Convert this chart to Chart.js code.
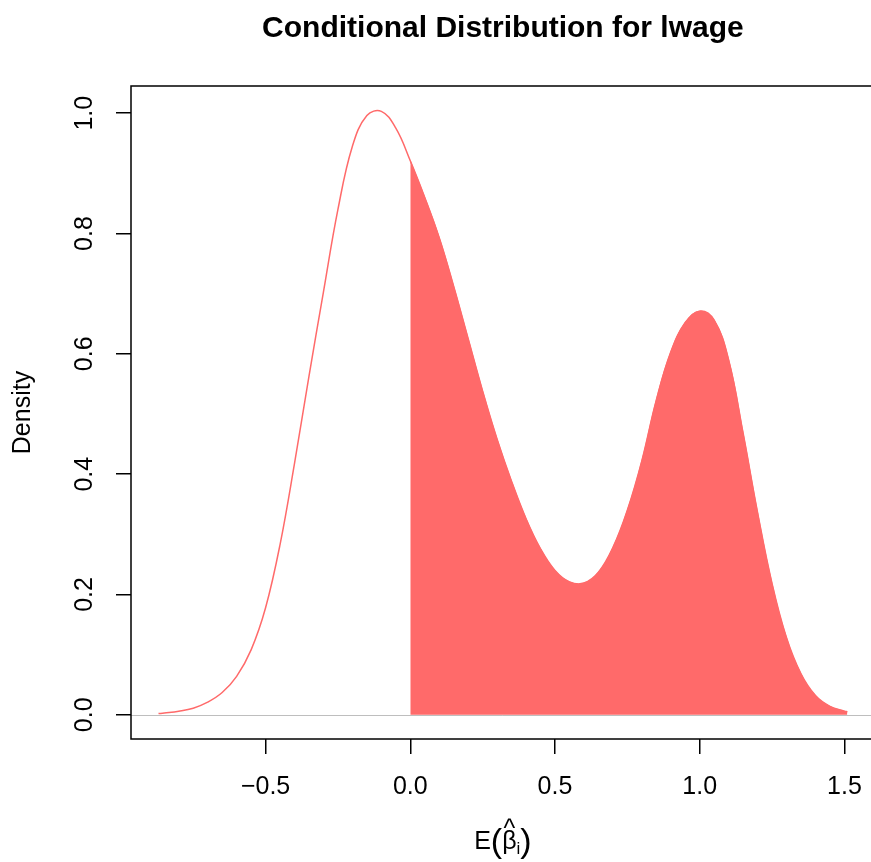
<!DOCTYPE html>
<html>
<head>
<meta charset="utf-8">
<script src="https://cdn.jsdelivr.net/npm/chart.js@4.4.1/dist/chart.umd.min.js"></script>
<style>
  html, body { margin: 0; padding: 0; background: #ffffff; overflow: hidden; width: 871px; height: 862px; }
  #wrap { position: absolute; left: 0; top: 0; width: 880px; height: 862px; }
</style>
</head>
<body>
<div id="wrap"><canvas id="c" width="880" height="862"></canvas></div>
<script>
// ---- data ----
const chartTitle = 'Conditional Distribution for lwage';
const yAxisTitle = 'Density';
const xTickValues = [-0.5, 0.0, 0.5, 1.0, 1.5];
const yTickValues = [0.0, 0.2, 0.4, 0.6, 0.8, 1.0];
const xRange = [-0.965, 1.605];
const yRange = [-0.0402, 1.0452];
const shadeFrom = 0.0;

const densityX = [-0.87, -0.85, -0.80, -0.75, -0.70, -0.65, -0.60, -0.55, -0.50, -0.45,
                  -0.40, -0.35, -0.30, -0.25, -0.20, -0.15, -0.10, -0.05, 0.00,
                   0.05, 0.10, 0.15, 0.20, 0.25, 0.30, 0.35, 0.40, 0.45, 0.50,
                   0.55, 0.60, 0.65, 0.70, 0.75, 0.80, 0.85, 0.90, 0.95,
                   1.00, 1.05, 1.10, 1.15, 1.20, 1.25, 1.30, 1.35, 1.40,
                   1.45, 1.50, 1.51];
const densityY = [0.002, 0.003, 0.006, 0.011, 0.021, 0.037, 0.064, 0.108, 0.178, 0.283,
                  0.418, 0.563, 0.703, 0.840, 0.945, 0.996, 1.003, 0.975, 0.921,
                  0.860, 0.793, 0.712, 0.625, 0.538, 0.458, 0.388, 0.326, 0.276, 0.240,
                  0.221, 0.219, 0.237, 0.278, 0.340, 0.422, 0.523, 0.603, 0.652,
                  0.671, 0.656, 0.590, 0.468, 0.336, 0.218, 0.128, 0.068, 0.032,
                  0.014, 0.006, 0.005];

const red = '#FF6A6A';

const curvePts = densityX.map((x, i) => ({ x: x, y: densityY[i] }));
const shadePts = curvePts.filter(p => p.x >= shadeFrom);

// ---- plugins ----
const boxAndExtras = {
  id: 'boxAndExtras',
  beforeDatasetsDraw(chart) {
    const { ctx, chartArea: a, scales: { y } } = chart;
    const y0 = Math.round(y.getPixelForValue(0)) + 0.5;
    ctx.save();
    ctx.strokeStyle = '#BEBEBE';
    ctx.lineWidth = 1;
    ctx.beginPath();
    ctx.moveTo(a.left, y0);
    ctx.lineTo(a.right, y0);
    ctx.stroke();
    ctx.restore();
  },
  afterDraw(chart) {
    const { ctx, chartArea: a } = chart;
    ctx.save();
    ctx.strokeStyle = '#000000';
    ctx.lineWidth = 1.5;
    ctx.strokeRect(a.left, a.top, a.right - a.left, a.bottom - a.top);
    // x axis title: E( beta-hat _i )
    const parts = [
      { t: 'E', f: 25, dy: 0 },
      { t: '(', f: 34, dy: 3 },
      { t: 'β', f: 25, dy: 0, hat: true },
      { t: 'i', f: 17, dy: 5 },
      { t: ')', f: 34, dy: 3 }
    ];
    let total = 0;
    parts.forEach(p => {
      ctx.font = p.f + 'px "Liberation Sans", Arial, sans-serif';
      p.w = ctx.measureText(p.t).width;
      total += p.w;
    });
    const cx = (a.left + a.right) / 2;
    const base = 849;
    let x = cx - total / 2;
    ctx.fillStyle = '#000000';
    ctx.textAlign = 'left';
    ctx.textBaseline = 'alphabetic';
    parts.forEach(p => {
      ctx.font = p.f + 'px "Liberation Sans", Arial, sans-serif';
      ctx.fillText(p.t, x, base + p.dy);
      if (p.hat) {
        ctx.font = '25px "Liberation Sans", Arial, sans-serif';
        const hw = ctx.measureText('^').width;
        ctx.fillText('^', x + (p.w - hw) / 2, base - 12);
      }
      x += p.w;
    });
    ctx.restore();
  }
};

const fmt = v => (v < 0 ? '\u2212' : '') + Math.abs(v).toFixed(1);

new Chart(document.getElementById('c'), {
  type: 'scatter',
  data: {
    datasets: [
      {
        data: shadePts,
        showLine: true,
        borderColor: red,
        backgroundColor: red,
        borderWidth: 1,
        pointRadius: 0,
        tension: 0.4,
        fill: 'origin'
      },
      {
        data: curvePts,
        showLine: true,
        borderColor: red,
        backgroundColor: red,
        borderWidth: 1.5,
        pointRadius: 0,
        tension: 0.4,
        fill: false
      }
    ]
  },
  plugins: [boxAndExtras],
  options: {
    responsive: false,
    animation: false,
    events: [],
    layout: { padding: 0 },
    plugins: {
      legend: { display: false },
      tooltip: { enabled: false },
      title: {
        display: true,
        text: chartTitle,
        fullSize: false,
        color: '#000000',
        font: { family: '"Liberation Sans", Arial, sans-serif', size: 30, weight: 'bold', lineHeight: 1.2 },
        padding: { top: 11, bottom: 39 }
      }
    },
    scales: {
      x: {
        type: 'linear',
        min: xRange[0],
        max: xRange[1],
        afterFit(s) { s.height = 123; },
        afterBuildTicks(s) { s.ticks = xTickValues.map(v => ({ value: v })); },
        grid: { display: true, drawOnChartArea: false, drawTicks: true, tickLength: 15, color: '#000000', lineWidth: 1.5 },
        border: { display: false },
        ticks: {
          autoSkip: false,
          maxRotation: 0,
          minRotation: 0,
          padding: 18,
          color: '#000000',
          font: { family: '"Liberation Sans", Arial, sans-serif', size: 25 },
          callback: v => fmt(v)
        }
      },
      y: {
        type: 'linear',
        min: yRange[0],
        max: yRange[1],
        afterFit(s) { s.width = 131; },
        afterBuildTicks(s) { s.ticks = yTickValues.map(v => ({ value: v })); },
        grid: { display: true, drawOnChartArea: false, drawTicks: true, tickLength: 15, color: '#000000', lineWidth: 1.5 },
        border: { display: false },
        title: {
          display: true,
          text: yAxisTitle,
          color: '#000000',
          font: { family: '"Liberation Sans", Arial, sans-serif', size: 25, lineHeight: 1.2 },
          padding: { top: 8, bottom: 0 }
        },
        ticks: {
          autoSkip: false,
          minRotation: 90,
          maxRotation: 90,
          crossAlign: 'center',
          padding: 14,
          color: '#000000',
          font: { family: '"Liberation Sans", Arial, sans-serif', size: 25 },
          callback: v => fmt(v)
        }
      }
    }
  }
});
</script>
</body>
</html>
